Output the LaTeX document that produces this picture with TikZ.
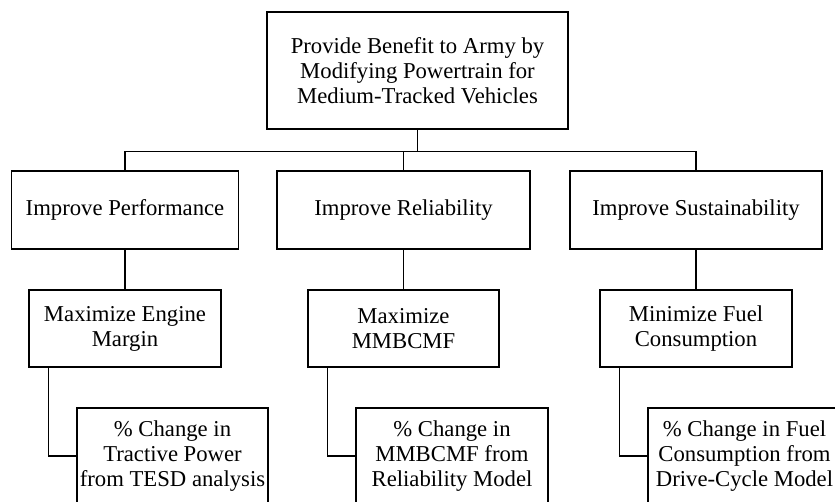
\documentclass[tikz,border=0pt]{standalone}
\usepackage{fontspec}
\setmainfont{Liberation Serif}
\usetikzlibrary{positioning}

\begin{document}
\begin{tikzpicture}[x=1pt,y=-1pt,
  box/.style={draw,line width=1.5pt,align=center,inner sep=0pt,font=\fontsize{22.7}{25}\selectfont},
  link/.style={draw,line width=1.5pt}]
\useasboundingbox[fill=white] (0,0) rectangle (835,502);

\node[box,minimum width=301pt,minimum height=117pt] (goal) at (417.5,70.5) {Provide Benefit to Army by\\Modifying Powertrain for\\Medium-Tracked Vehicles};

\node[box,minimum width=227pt,minimum height=78pt] (perf) at (125,210) {Improve Performance};
\node[box,minimum width=253pt,minimum height=78pt] (rel) at (403.5,210) {Improve Reliability};
\node[box,minimum width=252pt,minimum height=78pt] (sust) at (696,210) {Improve Sustainability};

\node[box,minimum width=192pt,minimum height=77pt] (engine) at (125,328.5) {Maximize Engine\\Margin};
\node[box,minimum width=191pt,minimum height=77pt] (mmbcmf) at (403.5,328.5) {Maximize\\MMBCMF};
\node[box,minimum width=192pt,minimum height=77pt] (fuel) at (696,328.5) {Minimize Fuel\\Consumption};

\node[box,minimum width=191pt,minimum height=96pt] (tesd) at (172.5,456) {\% Change in\\Tractive Power\\from TESD analysis};
\node[box,minimum width=192pt,minimum height=96pt] (relmod) at (452,456) {\% Change in\\MMBCMF from\\Reliability Model};
\node[box,minimum width=193pt,minimum height=96pt] (drive) at (744.5,456) {\% Change in Fuel\\Consumption from\\Drive-Cycle Model};

\draw[link] (goal.south) -- ++(0,22) -| (perf.north);
\draw[link] (goal.south) -- ++(0,22) -| (rel.north);
\draw[link] (goal.south) -- ++(0,22) -| (sust.north);

\draw[link] (perf.south) -- (engine.north);
\draw[link] (rel.south) -- (mmbcmf.north);
\draw[link] (sust.south) -- (fuel.north);

\draw[link] ([xshift=20pt]engine.south west) |- (tesd.west);
\draw[link] ([xshift=20pt]mmbcmf.south west) |- (relmod.west);
\draw[link] ([xshift=20pt]fuel.south west) |- (drive.west);

\end{tikzpicture}
\end{document}
